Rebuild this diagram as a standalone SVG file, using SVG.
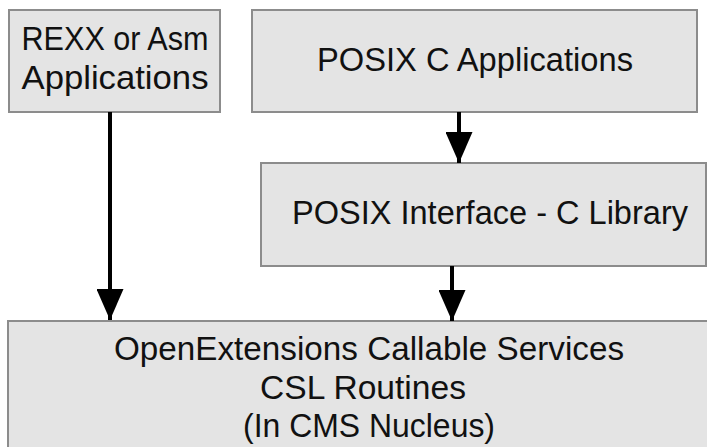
<svg xmlns="http://www.w3.org/2000/svg" width="707" height="447" viewBox="0 0 707 447">
<style>
.box{fill:#e4e4e4;stroke:#8c8c8c;stroke-width:2}
.t{font-family:"Liberation Sans",Arial,sans-serif;font-size:32.5px;fill:#111;text-anchor:middle}
.c{stroke:#000;stroke-width:4;fill:none}
</style>
<defs>
<marker id="ah" viewBox="0 0 31 27" refX="31" refY="13.5" markerWidth="31" markerHeight="27" markerUnits="userSpaceOnUse" orient="auto">
<path d="M0,0 L31,13.5 L0,27 z" fill="#000"/>
</marker>
</defs>
<rect width="707" height="447" fill="#fff"/>
<g id="rexx">
<rect class="box" x="9" y="10" width="211" height="102"/>
<text class="t" x="115" y="50" textLength="187" lengthAdjust="spacingAndGlyphs">REXX or Asm</text>
<text class="t" x="115" y="89" textLength="187" lengthAdjust="spacingAndGlyphs">Applications</text>
</g>
<g id="posixapp">
<rect class="box" x="252" y="10" width="445" height="102"/>
<text class="t" x="475" y="71" textLength="316" lengthAdjust="spacingAndGlyphs">POSIX C Applications</text>
</g>
<g id="posixlib">
<rect class="box" x="261" y="163" width="445" height="103"/>
<text class="t" x="490" y="224" textLength="396" lengthAdjust="spacingAndGlyphs">POSIX Interface - C Library</text>
</g>
<g id="csl">
<rect class="box" x="8" y="321" width="712" height="140"/>
<text class="t" x="369" y="360" textLength="510" lengthAdjust="spacingAndGlyphs">OpenExtensions Callable Services</text>
<text class="t" x="363" y="399" textLength="206" lengthAdjust="spacingAndGlyphs">CSL Routines</text>
<text class="t" x="369" y="437" textLength="252" lengthAdjust="spacingAndGlyphs">(In CMS Nucleus)</text>
</g>
<g id="connectors">
<line class="c" x1="110" y1="112" x2="110" y2="320" marker-end="url(#ah)"/>
<line class="c" x1="459" y1="112" x2="459" y2="163" marker-end="url(#ah)"/>
<line class="c" x1="452" y1="266" x2="452" y2="321" marker-end="url(#ah)"/>
</g>
</svg>
